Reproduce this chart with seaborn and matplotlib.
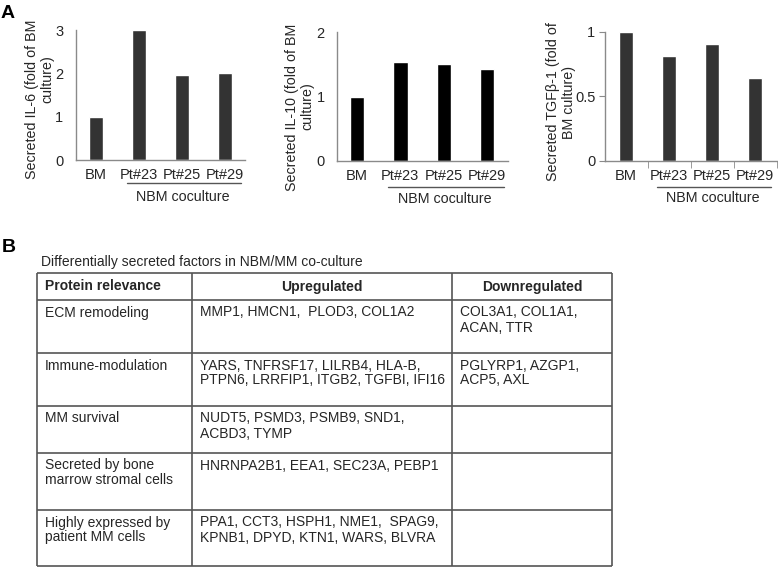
import matplotlib
matplotlib.use("Agg")
import matplotlib.pyplot as plt
import matplotlib.transforms as mtransforms
import seaborn as sns

# bar data (fold of BM culture)
samples = ["BM", "Pt#23", "Pt#25", "Pt#29"]
il6 = [1.0, 3.0, 1.97, 2.0]
il10 = [1.0, 1.53, 1.51, 1.42]
tgfb1 = [1.0, 0.81, 0.905, 0.644]
group_label = "NBM coculture"

# table data
table_title = "Differentially secreted factors in NBM/MM co-culture"
col_headers = ["Protein relevance", "Upregulated", "Downregulated"]
relevance = ["ECM remodeling",
             "Immune-modulation",
             "MM survival",
             "Secreted by bone\nmarrow stromal cells",
             "Highly expressed by\npatient MM cells"]
upregulated = ["MMP1, HMCN1,  PLOD3, COL1A2",
               "YARS, TNFRSF17, LILRB4, HLA-B,\nPTPN6, LRRFIP1, ITGB2, TGFBI, IFI16",
               "NUDT5, PSMD3, PSMB9, SND1,\nACBD3, TYMP",
               "HNRNPA2B1, EEA1, SEC23A, PEBP1",
               "PPA1, CCT3, HSPH1, NME1,  SPAG9,\nKPNB1, DPYD, KTN1, WARS, BLVRA"]
downregulated = ["COL3A1, COL1A1,\nACAN, TTR",
                 "PGLYRP1, AZGP1,\nACP5, AXL",
                 "", "", ""]

sns.set_style("white")
plt.rcParams["font.family"] = ["Liberation Sans", "DejaVu Sans"]

W, H = 778, 570
fig = plt.figure(figsize=(W / 100, H / 100), dpi=100)
TXT = "#262626"
GRID = "#8a8a8a"


def px_axes(left, top, right, bottom):
    return fig.add_axes([left / W, 1 - bottom / H, (right - left) / W, (bottom - top) / H])


def ftext(x, y, s, **kw):
    kw.setdefault("color", TXT)
    fig.text(x / W, 1 - y / H, s, **kw)


def bar_panel(box, values, color, ymax, yticks, yticklabels, xlim, ticks_out, line_y, text_y):
    ax = px_axes(*box)
    sns.barplot(x=samples, y=values, ax=ax, color=color, saturation=1, width=0.33)
    ax.set_xlim(*xlim)
    ax.set_ylim(0, ymax)
    ax.set_yticks(yticks)
    ax.set_yticklabels(yticklabels)
    ax.set_xlabel("")
    ax.set_ylabel("")
    sns.despine(ax=ax)
    for s in ["left", "bottom"]:
        ax.spines[s].set_color(GRID)
        ax.spines[s].set_linewidth(1)
    if ticks_out:
        ax.tick_params(axis="y", length=4, color=GRID, pad=3, direction="out", left=True)
        ax.set_xticks([0.5, 1.5, 2.5, 3.5], minor=True)
        ax.tick_params(axis="x", which="minor", length=5, color=GRID, direction="out", bottom=True)
        ax.tick_params(axis="x", which="major", length=0, pad=6)
    else:
        ax.tick_params(axis="y", length=0, pad=9)
        ax.tick_params(axis="x", length=0, pad=6)
    ax.tick_params(labelsize=10.5, labelcolor=TXT)
    trans = mtransforms.blended_transform_factory(ax.transData, ax.transAxes)
    ax.plot([0.71, 3.38], [line_y, line_y], color="#555555", lw=1, transform=trans, clip_on=False)
    ax.text(2.02, text_y, group_label, transform=trans, ha="center", va="center",
            fontsize=10.3, color=TXT)
    return ax


bar_panel((76, 30, 245, 160), il6, "#333333", 3, [0, 1, 2, 3], ["0", "1", "2", "3"],
          (-0.465, 3.465), False, -0.177, -0.285)
bar_panel((337, 32, 508, 161), il10, "#000000", 2, [0, 1, 2], ["0", "1", "2"],
          (-0.46, 3.48), False, -0.2, -0.295)
bar_panel((605, 31.7, 777, 161), tgfb1, "#333333", 1, [0, 0.5, 1], ["0", "0.5", "1"],
          (-0.49, 3.51), True, -0.2, -0.286)

# y labels (two lines each, placed as in the figure)
lab_kw = dict(rotation=90, ha="center", va="center", fontsize=10.3)
ftext(32, 99.5, "Secreted IL-6 (fold of BM", **lab_kw)
ftext(47, 79, "culture)", **lab_kw)
ftext(292, 107, "Secreted IL-10 (fold of BM", **lab_kw)
ftext(307, 106, "culture)", **lab_kw)
ftext(553, 102, "Secreted TGF\u03b2-1 (fold of", **lab_kw)
ftext(569, 102, "BM culture)", **lab_kw)

# panel letters
ftext(8, 14, "A", ha="center", va="center", fontsize=14, fontweight="bold", color="black")
ftext(9, 248, "B", ha="center", va="center", fontsize=14, fontweight="bold", color="black")

# table
tax = fig.add_axes([0, 0, 1, 1])
tax.set_xlim(0, W)
tax.set_ylim(H, 0)
tax.axis("off")

col_x = [37, 192, 452, 612]
row_y = [273, 300, 353, 406, 453, 510, 566]
pad_x, first_dy, line_dy = 8, 12.5, 15

tax.text(41, 262, table_title, ha="left", va="center", fontsize=10, color=TXT)
tax.hlines(row_y, col_x[0], col_x[-1], color="#555555", lw=1.2)
tax.vlines(col_x, row_y[0], row_y[-1], color="#555555", lw=1.2)

hy = (row_y[0] + row_y[1]) / 2
tax.text(col_x[0] + pad_x, hy, col_headers[0], ha="left", va="center",
         fontsize=10, fontweight="bold", color=TXT)
for j in (1, 2):
    tax.text((col_x[j] + col_x[j + 1]) / 2, hy, col_headers[j], ha="center", va="center",
             fontsize=10, fontweight="bold", color=TXT)

for i, cells in enumerate(zip(relevance, upregulated, downregulated)):
    top = row_y[i + 1]
    for j, cell in enumerate(cells):
        for k, line in enumerate(cell.split("\n")):
            if line:
                tax.text(col_x[j] + pad_x, top + first_dy + k * line_dy, line,
                         ha="left", va="center", fontsize=10, color=TXT)

fig.savefig("out.png", dpi=100)
